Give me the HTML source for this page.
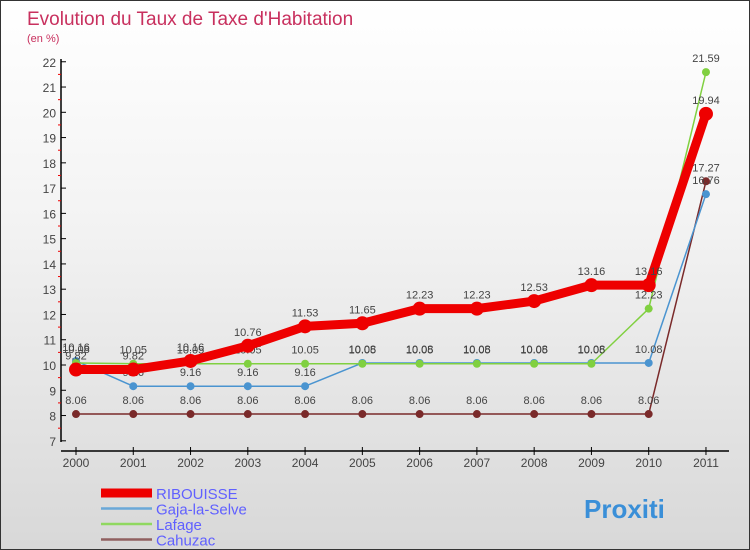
<!DOCTYPE html>
<html><head><meta charset="utf-8"><style>
body{margin:0}
#c{width:750px;height:550px;position:relative;box-sizing:border-box;border:1px solid #333;background:linear-gradient(#fff,#f3f3f3 40%,#d8d8d8);font-family:"Liberation Sans",sans-serif;overflow:hidden}
text{font-family:"Liberation Sans",sans-serif}
</style></head><body>
<div id="c">
<svg id="s" width="750" height="550">
<text x="26" y="24" font-size="19" fill="#c8305e">Evolution du Taux de Taxe d'Habitation</text>
<text x="26" y="41" font-size="11" fill="#c8305e">(en %)</text>
</svg>
</div>
<script>
const years=["2000","2001","2002","2003","2004","2005","2006","2007","2008","2009","2010","2011"];
const yTicks=[7,8,9,10,11,12,13,14,15,16,17,18,19,20,21,22];
const ribouisse=[9.82,9.82,10.16,10.76,11.53,11.65,12.23,12.23,12.53,13.16,13.16,19.94];
const gaja=[10.16,9.16,9.16,9.16,9.16,10.08,10.08,10.08,10.08,10.08,10.08,16.76];
const lafage=[10.08,10.05,10.05,10.05,10.05,10.05,10.05,10.05,10.05,10.05,12.23,21.59];
const cahuzac=[8.06,8.06,8.06,8.06,8.06,8.06,8.06,8.06,8.06,8.06,8.06,17.27];
const NS="http://www.w3.org/2000/svg",s=document.getElementById('s');
const X=i=>75+i*57.27, Y=v=>364-(v-10)*25.27;
function el(t,a,p){const e=document.createElementNS(NS,t);for(const k in a)e.setAttribute(k,a[k]);(p||s).appendChild(e);return e;}
let e;
e=el('line',{x1:60,y1:58,x2:60,y2:441,stroke:'#000','stroke-width':1.5});


e=el('line',{x1:60,y1:450,x2:728,y2:450,stroke:'#000','stroke-width':1.5});


yTicks.forEach(v=>{
 el('line',{x1:60,y1:Y(v),x2:65,y2:Y(v),stroke:'#000'});
 if(v<22) el('line',{x1:57,y1:Y(v+0.5),x2:60,y2:Y(v+0.5),stroke:'#e00'});
 e=el('text',{x:55,y:Y(v)+5,'font-size':12,'text-anchor':'end',fill:'#444'});e.textContent=v;
 
 
});
years.forEach((y,i)=>{
 el('line',{x1:X(i),y1:446,x2:X(i),y2:454,stroke:'#000'});
 e=el('text',{x:X(i),y:466,'font-size':12,'text-anchor':'middle',fill:'#444'});e.textContent=y;
 
 
});
function series(d,col,w,r,name){
 const g=el('g',{});
 
 
 el('polyline',{points:d.map((v,i)=>X(i)+','+Y(v)).join(' '),fill:'none',stroke:col,'stroke-width':w,'stroke-linejoin':'round'},g);
 d.forEach((v,i)=>{
  const c=el('circle',{cx:X(i),cy:Y(v),r:r,fill:col},g);
  
  
  const t=el('text',{x:X(i),y:Y(v)-10,'font-size':11,'text-anchor':'middle',fill:'#444'},g);t.textContent=v;
  
  
 });
}
series(cahuzac,'#7a2a2a',1.5,4,'cahuzac');
series(gaja,'#4a94d0',1.5,4,'gaja-la-selve');
series(lafage,'#80d040',1.5,4,'lafage');
series(ribouisse,'#ee0000',9,7,'ribouisse');
const leg=[["RIBOUISSE","#ee0000",9],["Gaja-la-Selve","#6aa8d8",2.5],["Lafage","#90d860",2.5],["Cahuzac","#906060",2.5]];
leg.forEach((l,i)=>{
 const y=492+i*15.5;
 const g=el('g',{});
 
 
 el('line',{x1:100,y1:y,x2:151,y2:y,stroke:l[1],'stroke-width':l[2]},g);
 const t=el('text',{x:155,y:y+6,'font-size':15,fill:'#6060ff'},g);t.textContent=l[0];
});
e=el('text',{x:583,y:517,'font-size':26,'font-weight':'bold',fill:'#3a8fd8'});e.textContent='Proxiti';


</script>
</body></html>
